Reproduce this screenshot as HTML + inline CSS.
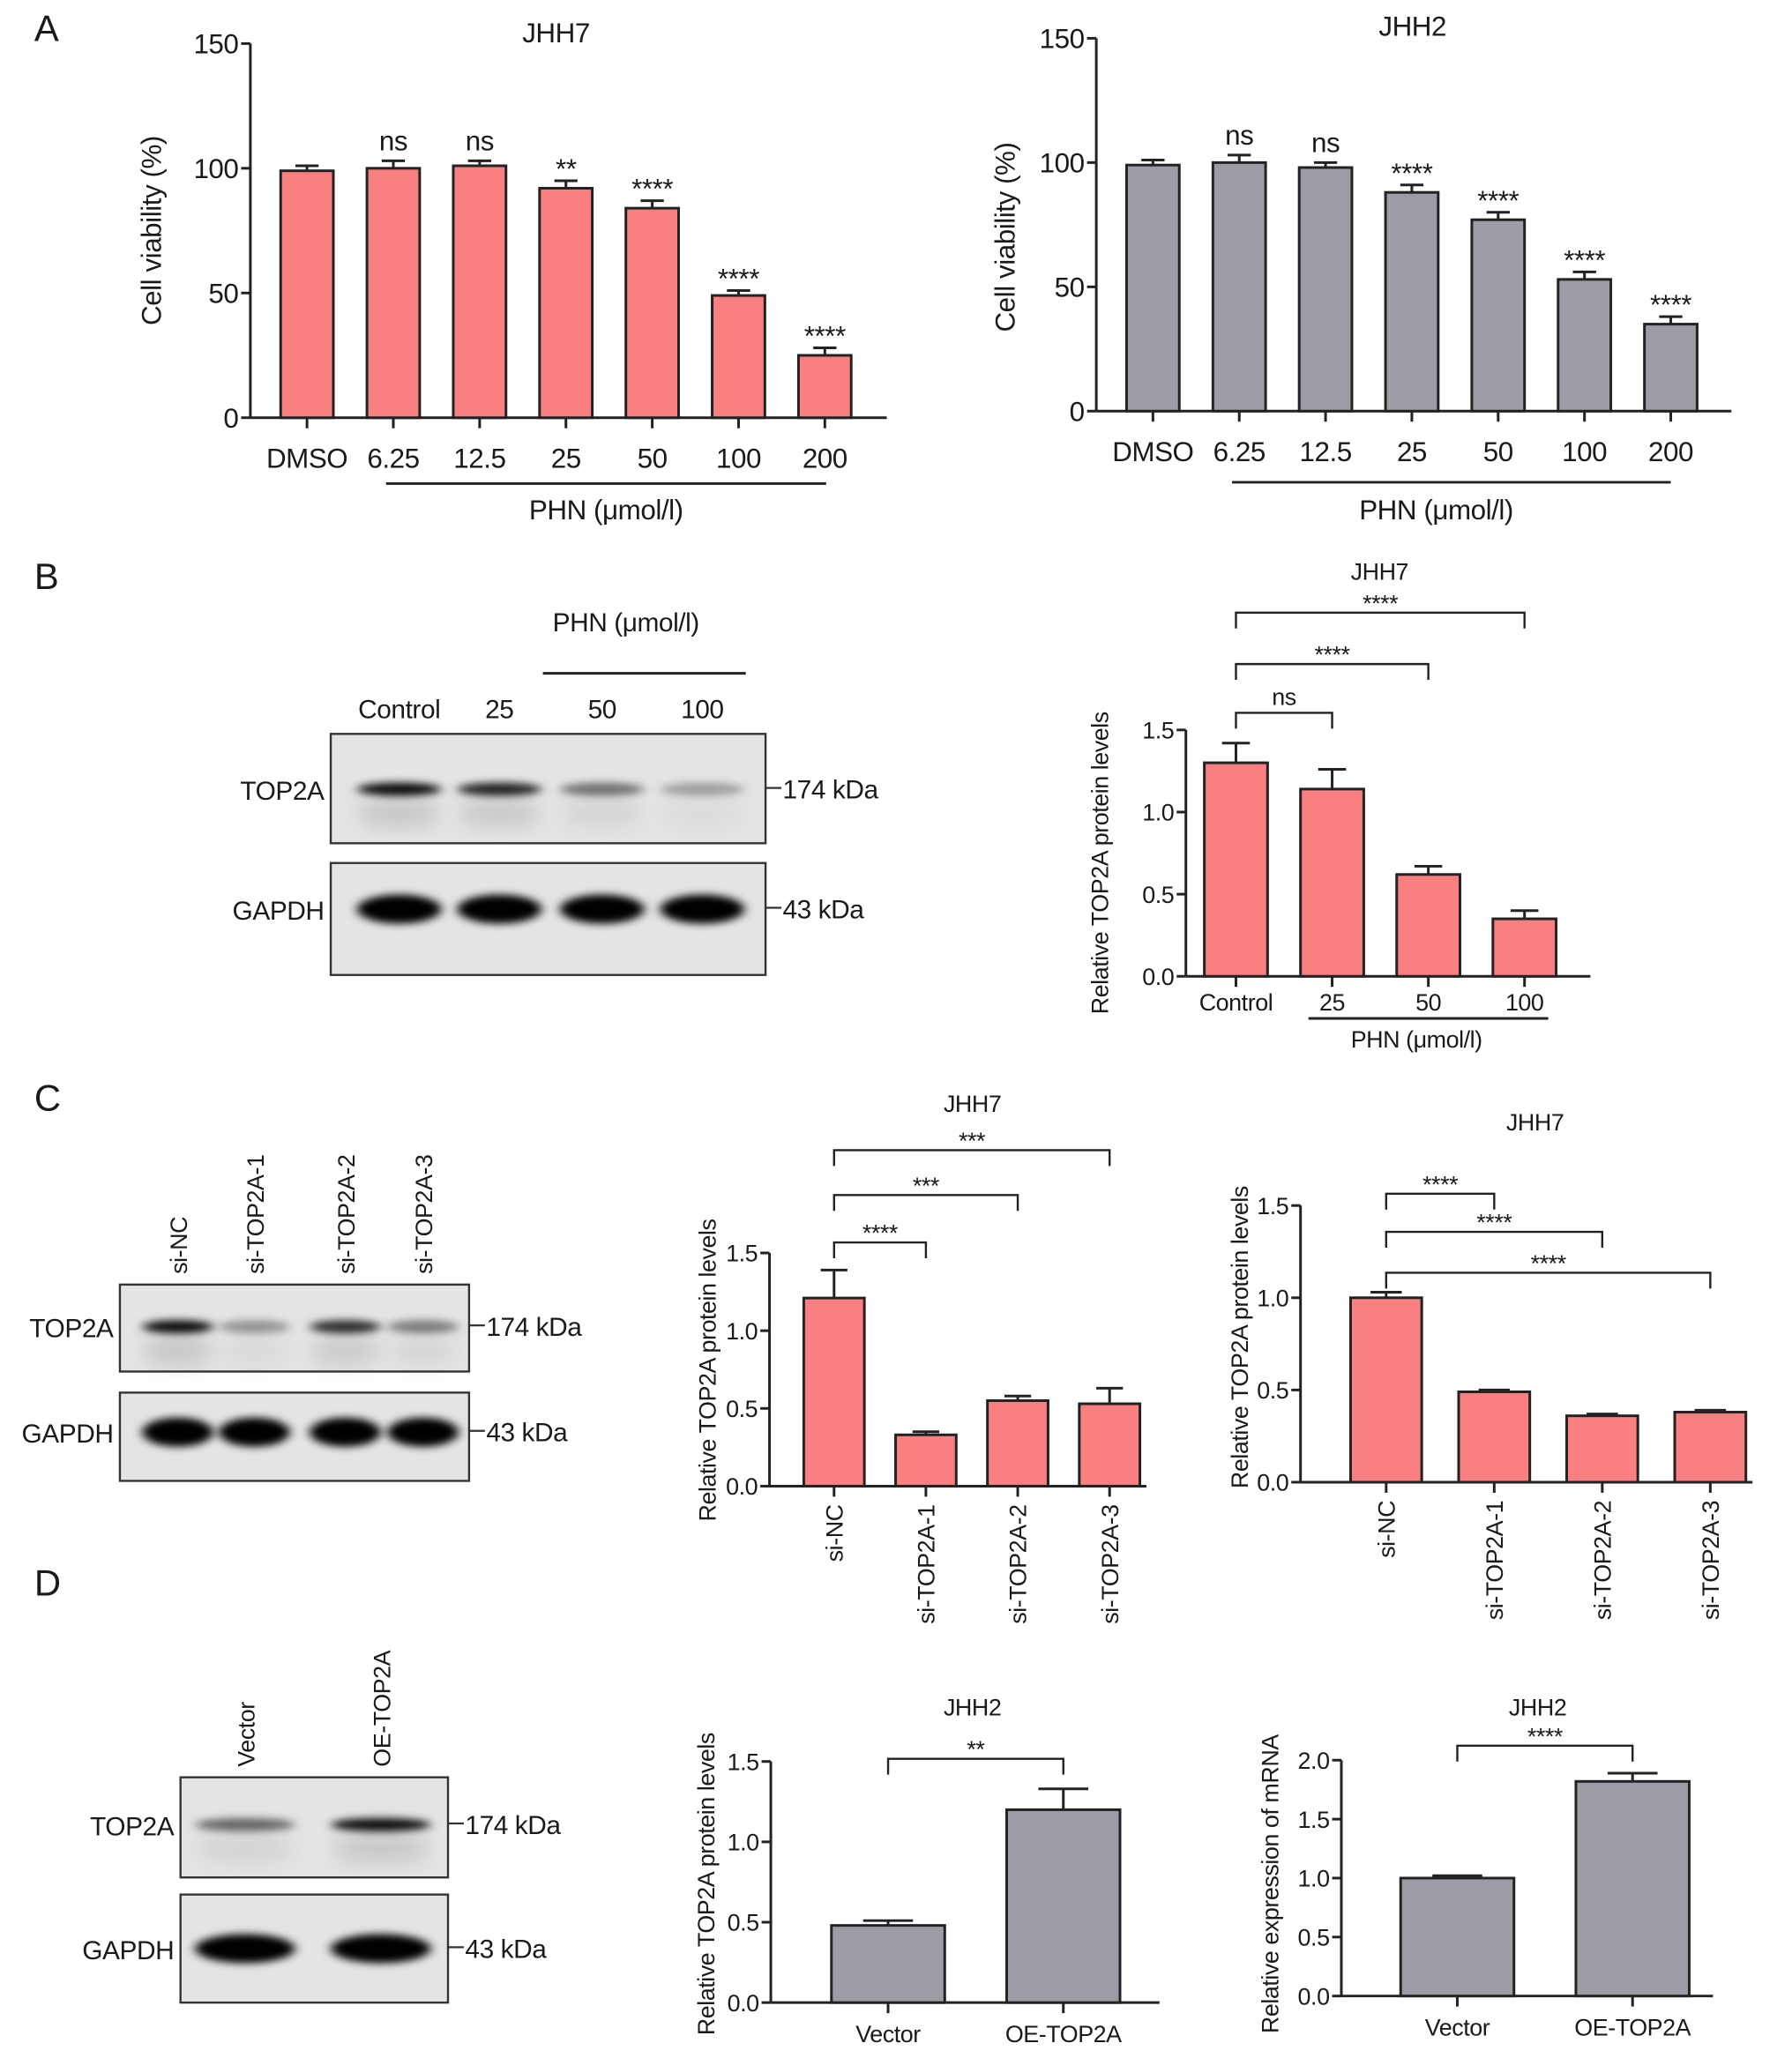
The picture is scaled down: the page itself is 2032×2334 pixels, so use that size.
<!DOCTYPE html>
<html><head><meta charset="utf-8"><style>
html,body{margin:0;padding:0;background:#fff}
svg{display:block}
text{font-family:"Liberation Sans",Arial,sans-serif;fill:#1a1a1a;letter-spacing:-0.3px}
</style></head><body>
<svg id="fig" width="2032" height="2334" viewBox="0 0 1360 1562" xmlns="http://www.w3.org/2000/svg">
<defs>
<filter id="blur" x="-30%" y="-100%" width="160%" height="300%"><feGaussianBlur stdDeviation="4 3"/></filter>
<filter id="blur2" x="-30%" y="-100%" width="160%" height="300%"><feGaussianBlur stdDeviation="6 8"/></filter>
</defs>
<g id="static">
<text x="26" y="31" font-size="28">A</text>
<text x="26" y="447" font-size="28">B</text>
<text x="26" y="843" font-size="28">C</text>
<text x="26" y="1211" font-size="28">D</text>
</g>
<g id="charts"></g>
<g id="blots"></g>
</svg>
<script>
// ---------- chart data ----------
const a1Categories=["DMSO","6.25","12.5","25","50","100","200"];
const a1Values=[99,100,101,92,84,49,25];
const a1Errors=[2,3,2,3,3,2,3];
const a1Stars=["","ns","ns","**","****","****","****"];
const a1Ticks=[0,50,100,150];

const a2Categories=["DMSO","6.25","12.5","25","50","100","200"];
const a2Values=[99,100,98,88,77,53,35];
const a2Errors=[2,3,2,3,3,3,3];
const a2Stars=["","ns","ns","****","****","****","****"];
const a2Ticks=[0,50,100,150];

const bCategories=["Control","25","50","100"];
const bValues=[1.30,1.14,0.62,0.35];
const bErrors=[0.12,0.12,0.05,0.05];
const bTicks=[0,0.5,1.0,1.5];
const bBrackets=[[0,1,"ns"],[0,2,"****"],[0,3,"****"]];

const c1Categories=["si-NC","si-TOP2A-1","si-TOP2A-2","si-TOP2A-3"];
const c1Values=[1.21,0.33,0.55,0.53];
const c1Errors=[0.18,0.02,0.03,0.10];
const c1Ticks=[0,0.5,1.0,1.5];
const c1Brackets=[[0,1,"****"],[0,2,"***"],[0,3,"***"]];

const c2Categories=["si-NC","si-TOP2A-1","si-TOP2A-2","si-TOP2A-3"];
const c2Values=[1.00,0.49,0.36,0.38];
const c2Errors=[0.03,0.01,0.01,0.01];
const c2Ticks=[0,0.5,1.0,1.5];
const c2Brackets=[[0,1,"****"],[0,2,"****"],[0,3,"****"]];

const d1Categories=["Vector","OE-TOP2A"];
const d1Values=[0.48,1.20];
const d1Errors=[0.03,0.13];
const d1Ticks=[0,0.5,1.0,1.5];
const d1Brackets=[[0,1,"**"]];

const d2Categories=["Vector","OE-TOP2A"];
const d2Values=[1.00,1.82];
const d2Errors=[0.02,0.07];
const d2Ticks=[0,0.5,1.0,1.5,2.0];
const d2Brackets=[[0,1,"****"]];

const NS="http://www.w3.org/2000/svg";
const PINK="#fa7f80", GRAY="#9c9ca5";
function mk(parent,tag,attrs,txt){const e=document.createElementNS(NS,tag);for(const k in attrs)e.setAttribute(k,attrs[k]);if(txt!==undefined)e.textContent=txt;parent.appendChild(e);return e;}

function drawChart(c){
  const root=document.getElementById('charts');
  const g=mk(root,'g',{});
  
  
  const yMax=c.ticks[c.ticks.length-1];
  const yS=v=>c.y0-(v/yMax)*(c.y0-c.yTop);
  const xS=i=>c.x0c+i*c.step;
  const ya=mk(g,'line',{x1:c.ax,y1:yS(yMax),x2:c.ax,y2:c.y0,stroke:'#222','stroke-width':2});
  
  
  const xa=mk(g,'line',{x1:c.ax,y1:c.y0,x2:c.axEnd,y2:c.y0,stroke:'#222','stroke-width':2});
  
  
  c.ticks.forEach(t=>{
    mk(g,'line',{x1:c.ax-7,y1:yS(t),x2:c.ax,y2:yS(t),stroke:'#222','stroke-width':2});
    const tl=mk(g,'text',{x:c.ax-9,y:yS(t)+c.fs*0.36,'font-size':c.fs,'text-anchor':'end'},c.fmt(t));
    
    
  });
  c.values.forEach((v,i)=>{
    const x=xS(i);
    const b=mk(g,'rect',{x:x-c.bw/2,y:yS(v),width:c.bw,height:c.y0-yS(v),fill:c.color,stroke:'#222','stroke-width':2});
    
    
    const e=c.errors[i];
    mk(g,'line',{x1:x,y1:yS(v),x2:x,y2:yS(v+e),stroke:'#222','stroke-width':2});
    mk(g,'line',{x1:x-c.bw*0.22,y1:yS(v+e),x2:x+c.bw*0.22,y2:yS(v+e),stroke:'#222','stroke-width':2});
    mk(g,'line',{x1:x,y1:c.y0,x2:x,y2:c.y0+8,stroke:'#222','stroke-width':2});
    let lab;
    if(c.rotLabels){
      lab=mk(g,'text',{x:0,y:0,'font-size':c.fs,'text-anchor':'end',transform:`translate(${x+c.fs*0.36},${c.y0+14}) rotate(-90)`},c.cats[i]);
    }else{
      lab=mk(g,'text',{x:x,y:c.y0+c.labDy,'font-size':c.fs,'text-anchor':'middle'},c.cats[i]);
    }
    
    
    if(c.stars&&c.stars[i]){
      const s=c.stars[i]==='ns';
      const st=mk(g,'text',{x:x,y:yS(v+e)-(s?8:2),'font-size':s?c.fs:c.fs*1.0,'text-anchor':'middle'},c.stars[i]);
      
      
    }
  });
  if(c.brackets){
    c.brackets.forEach((br,k)=>{
      const x1=xS(br[0]),x2=xS(br[1]),y=c.brY[k];
      const p=mk(g,'path',{d:`M${x1},${y+12}V${y}H${x2}V${y+12}`,fill:'none',stroke:'#222','stroke-width':1.6});
      
      
      const t=mk(g,'text',{x:(x1+x2)/2,y:y-(br[2]==='ns'?6:1),'font-size':c.fs,'text-anchor':'middle'},br[2]);
      
      
    });
  }
  const ti=mk(g,'text',{x:c.titleX,y:c.titleY,'font-size':c.fs,'text-anchor':'middle'},c.title);
  
  
  const yl=mk(g,'text',{x:0,y:0,'font-size':c.fs,'text-anchor':'middle',transform:`translate(${c.ylX},${c.ylY}) rotate(-90)`},c.ylabel);
  
  
  if(c.group){
    mk(g,'line',{x1:c.group.x1,y1:c.group.y,x2:c.group.x2,y2:c.group.y,stroke:'#222','stroke-width':2});
    const gl=mk(g,'text',{x:c.group.tx,y:c.group.ty,'font-size':c.fs,'text-anchor':'middle'},'PHN (μmol/l)');
    
    
  }
}
const f0=v=>String(v), f1=v=>v.toFixed(1);
drawChart({name:'chart-a-jhh7',cats:a1Categories,values:a1Values,errors:a1Errors,stars:a1Stars,ticks:a1Ticks,fmt:f0,
 ax:190,axEnd:673,y0:317,yTop:33,x0c:233,step:65.5,bw:40,color:PINK,fs:21,labDy:38,
 title:'JHH7',titleX:422,titleY:32,ylabel:'Cell viability (%)',ylX:122,ylY:175,
 group:{x1:293,x2:627,y:367,tx:460,ty:394}});
drawChart({name:'chart-a-jhh2',cats:a2Categories,values:a2Values,errors:a2Errors,stars:a2Stars,ticks:a2Ticks,fmt:f0,
 ax:832,axEnd:1314,y0:312,yTop:29,x0c:875,step:65.5,bw:40,color:GRAY,fs:21,labDy:38,
 title:'JHH2',titleX:1072,titleY:27,ylabel:'Cell viability (%)',ylX:770,ylY:180,
 group:{x1:935,x2:1268,y:366,tx:1090,ty:394}});
drawChart({name:'chart-b-top2a',cats:bCategories,values:bValues,errors:bErrors,ticks:bTicks,fmt:f1,
 ax:900,axEnd:1207,y0:741,yTop:554,x0c:938,step:73,bw:48,color:PINK,fs:18,labDy:26,
 brackets:bBrackets,brY:[541,504,465],
 title:'JHH7',titleX:1047,titleY:440,ylabel:'Relative TOP2A protein levels',ylX:841,ylY:655,
 group:{x1:993,x2:1175,y:773,tx:1075,ty:795}});
drawChart({name:'chart-c-top2a-1',cats:c1Categories,values:c1Values,errors:c1Errors,ticks:c1Ticks,fmt:f1,rotLabels:true,
 ax:584,axEnd:870,y0:1128,yTop:951,x0c:633,step:69.7,bw:46,color:PINK,fs:18,
 brackets:c1Brackets,brY:[943,907,873],
 title:'JHH7',titleX:738,titleY:844,ylabel:'Relative TOP2A protein levels',ylX:543,ylY:1040});
drawChart({name:'chart-c-top2a-2',cats:c2Categories,values:c2Values,errors:c2Errors,ticks:c2Ticks,fmt:f1,rotLabels:true,
 ax:987,axEnd:1330,y0:1125,yTop:915,x0c:1052,step:82,bw:54,color:PINK,fs:18,
 brackets:c2Brackets,brY:[906,935,966],
 title:'JHH7',titleX:1165,titleY:858,ylabel:'Relative TOP2A protein levels',ylX:947,ylY:1015});
drawChart({name:'chart-d-top2a',cats:d1Categories,values:d1Values,errors:d1Errors,ticks:d1Ticks,fmt:f1,
 ax:585,axEnd:880,y0:1520,yTop:1337,x0c:674,step:133,bw:86,color:GRAY,fs:18,labDy:30,
 brackets:d1Brackets,brY:[1335],
 title:'JHH2',titleX:738,titleY:1302,ylabel:'Relative TOP2A protein levels',ylX:542,ylY:1430});
drawChart({name:'chart-d-mrna',cats:d2Categories,values:d2Values,errors:d2Errors,ticks:d2Ticks,fmt:f1,
 ax:1018,axEnd:1300,y0:1515,yTop:1336,x0c:1106,step:133,bw:86,color:GRAY,fs:18,labDy:30,
 brackets:d2Brackets,brY:[1325],
 title:'JHH2',titleX:1167,titleY:1302,ylabel:'Relative expression of mRNA',ylX:970,ylY:1430});

// ---------- blots ----------
function blot(b){
  const root=document.getElementById('blots');
  const g=mk(root,'g',{});
  
  
  [[b.y1,b.h1,'TOP2A',b.top,'174 kDa',b.k1],[b.y2,b.h2,'GAPDH',b.gap,'43 kDa',b.k2]].forEach((r,ri)=>{
    const box=mk(g,'rect',{x:b.x,y:r[0],width:b.w,height:r[1],fill:'#e4e4e4',stroke:'#333','stroke-width':1.6});
    
    
    b.lanes.forEach((lx,i)=>{
      const o=r[3][i];
      const band=mk(g,'ellipse',{cx:lx,cy:r[5],rx:b.bw,ry:ri?11:5,fill:'#000','fill-opacity':o,filter:'url(#blur)'});
      
      
      if(!ri) mk(g,'ellipse',{cx:lx,cy:r[5]+18,rx:b.bw,ry:10,fill:'#000','fill-opacity':o*0.15,filter:'url(#blur2)'});
    });
    const l=mk(g,'text',{x:b.x-5,y:r[5]+8,'font-size':b.fs,'text-anchor':'end'},r[2]);
    
    
    mk(g,'line',{x1:b.x+b.w,y1:r[5]-1,x2:b.x+b.w+12,y2:r[5]-1,stroke:'#333','stroke-width':1.5});
    const k=mk(g,'text',{x:b.x+b.w+13,y:r[5]+7,'font-size':b.fs},r[4]);
    
    
  });
  b.labels.forEach((t,i)=>{
    let e;
    if(b.rot) e=mk(g,'text',{x:0,y:0,'font-size':b.fs-2,'text-anchor':'start',transform:`translate(${b.lanes[i]+7},${b.y1-8}) rotate(-90)`},t);
    else e=mk(g,'text',{x:b.lanes[i],y:b.y1-12,'font-size':b.fs,'text-anchor':'middle'},t);
    
    
  });
}
blot({name:'western-blot-b',x:251,w:330,y1:557,h1:83,y2:655,h2:85,k1:599,k2:690,fs:20,bw:32,
 lanes:[303,379,457,533],labels:['Control','25','50','100'],top:[0.95,0.85,0.5,0.3],gap:[1,1,1,1]});
(function(){const g=document.getElementById('blots');
 mk(g,'line',{x1:412,y1:511,x2:566,y2:511,stroke:'#222','stroke-width':2});
 const t=mk(g,'text',{x:475,y:479,'font-size':20,'text-anchor':'middle'},'PHN (μmol/l)');
 
 })();
blot({name:'western-blot-c',x:91,w:265,y1:975,h1:66,y2:1057,h2:67,k1:1007,k2:1087,fs:20,bw:27,rot:true,
 lanes:[135,193,262,321],labels:['si-NC','si-TOP2A-1','si-TOP2A-2','si-TOP2A-3'],top:[0.95,0.35,0.8,0.45],gap:[1,1,1,1]});
blot({name:'western-blot-d',x:137,w:203,y1:1349,h1:76,y2:1438,h2:82,k1:1385,k2:1479,fs:20,bw:38,rot:true,
 lanes:[186,289],labels:['Vector','OE-TOP2A'],top:[0.55,0.95],gap:[1,1]});
</script>
</body></html>
